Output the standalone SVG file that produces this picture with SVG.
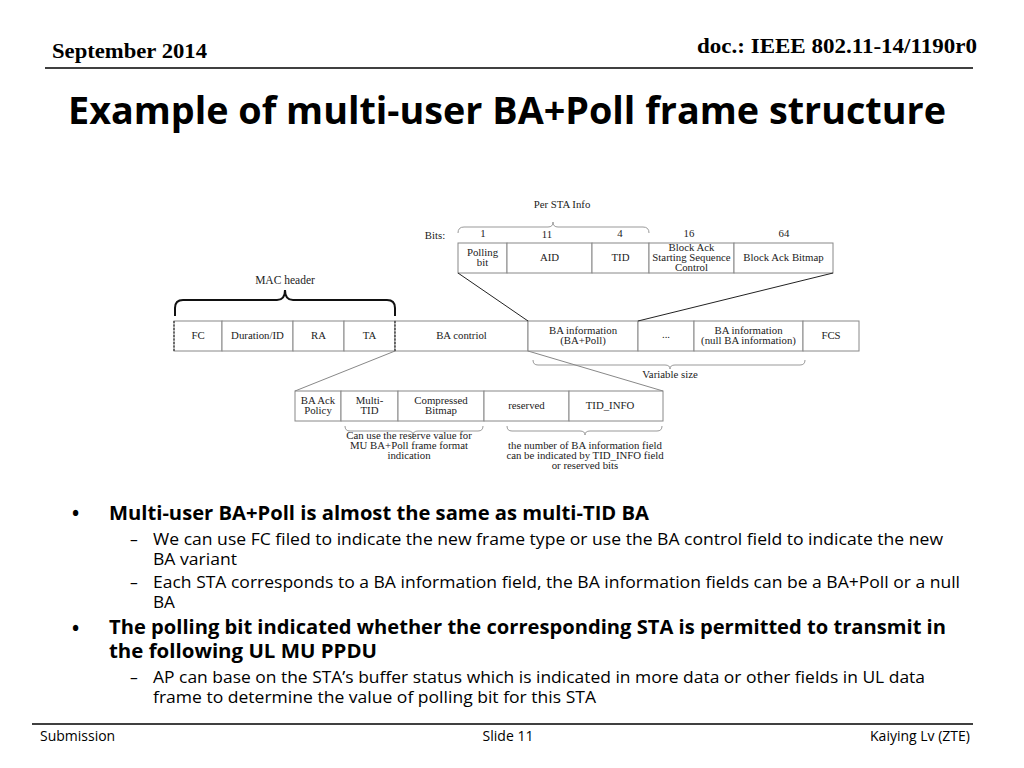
<svg xmlns="http://www.w3.org/2000/svg" width="1024" height="768" viewBox="0 0 1024 768">
<style>
.hd{font-family:"Liberation Serif",serif;font-weight:bold;font-size:21px;fill:#000}
.ti{font-family:"Open Sans","Noto Sans",sans-serif;font-weight:bold;font-size:38px;fill:#000}
.b1{font-family:"Open Sans","Noto Sans",sans-serif;font-weight:bold;font-size:19px;fill:#000}
.b2{font-family:"Open Sans","Noto Sans",sans-serif;font-size:15.5px;fill:#000}
.ft{font-family:"Open Sans","Noto Sans",sans-serif;font-size:14px;fill:#000}
.t{font-family:"Liberation Serif",serif;font-size:10.8px;fill:#222;text-anchor:middle}
.cell{fill:#fff;stroke:#888;stroke-width:1}
.br{fill:none;stroke:#999;stroke-width:1}
.conn{fill:none;stroke:#222;stroke-width:1}
.conn2{fill:none;stroke:#888;stroke-width:1}
</style>
<rect width="1024" height="768" fill="#fff"/>
<text class="hd" x="52" y="58" textLength="155" lengthAdjust="spacingAndGlyphs">September 2014</text>
<text class="hd" x="697" y="53" textLength="280" lengthAdjust="spacingAndGlyphs">doc.: IEEE 802.11-14/1190r0</text>
<line x1="45" y1="68" x2="973" y2="68" stroke="#000" stroke-width="1.5"/>
<text class="ti" x="68" y="124" textLength="878" lengthAdjust="spacingAndGlyphs">Example of multi-user BA+Poll frame structure</text>

<g id="per-sta-info">
<text class="t" x="562" y="208">Per STA Info</text>
<path class="br" d="M458,233 Q458,227 464,227 L548,227 Q553,227 553,222 Q553,227 558,227 L643,227 Q649,227 649,233"/>
<text class="t" x="435" y="239">Bits:</text>
<text class="t" x="483" y="237">1</text>
<text class="t" x="547" y="238">11</text>
<text class="t" x="620" y="237">4</text>
<text class="t" x="689" y="237">16</text>
<text class="t" x="784" y="237">64</text>
<rect class="cell" x="458" y="243" width="49" height="30"/>
<text class="t" x="482.5" y="256">Polling</text><text class="t" x="482.5" y="266">bit</text>
<rect class="cell" x="507" y="243" width="85" height="30"/>
<text class="t" x="549.5" y="261">AID</text>
<rect class="cell" x="592" y="243" width="57" height="30"/>
<text class="t" x="620.5" y="261">TID</text>
<rect class="cell" x="649" y="243" width="85" height="30"/>
<text class="t" x="691.5" y="251">Block Ack</text><text class="t" x="691.5" y="261">Starting Sequence</text><text class="t" x="691.5" y="271">Control</text>
<rect class="cell" x="734" y="243" width="99" height="30"/>
<text class="t" x="783.5" y="261">Block Ack Bitmap</text>
</g>

<g id="mac-header">
<text class="t" x="285" y="284" style="font-size:11.5px">MAC header</text>
<path d="M175,316 L175,308 Q175,300 183,300 L277,300 Q285,300 285,290 Q285,300 293,300 L387,300 Q395,300 395,308 L395,316" fill="none" stroke="#111" stroke-width="2"/>
</g>

<g id="frame">
<rect class="cell" x="174" y="321" width="48" height="30"/>
<text class="t" x="198" y="339">FC</text>
<rect class="cell" x="222" y="321" width="71" height="30"/>
<text class="t" x="257.5" y="339">Duration/ID</text>
<rect class="cell" x="293" y="321" width="51" height="30"/>
<text class="t" x="318.5" y="339">RA</text>
<rect class="cell" x="344" y="321" width="51" height="30"/>
<text class="t" x="369.5" y="339">TA</text>
<rect class="cell" x="395" y="321" width="133" height="30"/>
<text class="t" x="461.5" y="339">BA contriol</text>
<rect class="cell" x="528" y="321" width="110" height="30"/>
<text class="t" x="583" y="334">BA information</text><text class="t" x="583" y="344">(BA+Poll)</text>
<rect class="cell" x="638" y="321" width="56" height="30"/>
<text class="t" x="666" y="338">...</text>
<rect class="cell" x="694" y="321" width="109" height="30"/>
<text class="t" x="748.5" y="334">BA information</text><text class="t" x="748.5" y="344">(null BA information)</text>
<rect class="cell" x="803" y="321" width="56" height="30"/>
<text class="t" x="831" y="339">FCS</text>
<line x1="174" y1="321" x2="174" y2="351" stroke="#333" stroke-width="1.2" stroke-dasharray="2,1.5"/>
<line x1="395" y1="321" x2="395" y2="351" stroke="#333" stroke-width="1.2" stroke-dasharray="2,1.5"/>
<path class="br" d="M533,360 Q533,365 538,365 L665,365 Q670,365 670,369 Q670,365 675,365 L800,365 Q805,365 805,360"/>
<text class="t" x="670" y="378">Variable size</text>
</g>

<g id="ba-control">
<rect class="cell" x="295" y="391" width="46" height="30"/>
<text class="t" x="318" y="404">BA Ack</text><text class="t" x="318" y="414">Policy</text>
<rect class="cell" x="341" y="391" width="57" height="30"/>
<text class="t" x="369.5" y="404">Multi-</text><text class="t" x="369.5" y="414">TID</text>
<rect class="cell" x="398" y="391" width="86" height="30"/>
<text class="t" x="441" y="404">Compressed</text><text class="t" x="441" y="414">Bitmap</text>
<rect class="cell" x="484" y="391" width="85" height="30"/>
<text class="t" x="526.5" y="409">reserved</text>
<rect class="cell" x="569" y="391" width="94" height="30"/>
<text class="t" x="610" y="409">TID_INFO</text>
<path class="br" d="M345,426 Q345,431 350,431 L408,431 Q413,431 413,435 Q413,431 418,431 L478,431 Q483,431 483,426"/>
<text class="t" x="409" y="439">Can use the reserve value for</text>
<text class="t" x="409" y="449">MU BA+Poll frame format</text>
<text class="t" x="409" y="459">indication</text>
<path class="br" d="M507,426 Q507,431 512,431 L580,431 Q585,431 585,435 Q585,431 590,431 L657,431 Q662,431 662,426"/>
<text class="t" x="585" y="449">the number of BA  information field</text>
<text class="t" x="585" y="459">can be indicated by TID_INFO field</text>
<text class="t" x="585" y="469">or reserved bits</text>
</g>

<g id="connectors">
<line class="conn" x1="458" y1="273" x2="528" y2="321"/>
<line class="conn" x1="833" y1="273" x2="638" y2="321"/>
<line class="conn2" x1="395" y1="351" x2="295" y2="391"/>
<line class="conn2" x1="528" y1="351" x2="663" y2="391"/>
</g>

<g id="bullets">
<text class="b1" x="72" y="520">•</text>
<text class="b1" x="109" y="520" textLength="540" lengthAdjust="spacingAndGlyphs">Multi-user BA+Poll is almost the same as multi-TID BA</text>
<text class="b2" x="130" y="545">–</text>
<text class="b2" x="153" y="545" textLength="790" lengthAdjust="spacingAndGlyphs">We can use FC filed to indicate the new frame type or use the BA control field to indicate the new</text>
<text class="b2" x="153" y="565" textLength="84" lengthAdjust="spacingAndGlyphs">BA variant</text>
<text class="b2" x="130" y="588">–</text>
<text class="b2" x="153" y="588" textLength="807" lengthAdjust="spacingAndGlyphs">Each STA corresponds to a BA information field, the BA information fields can be a BA+Poll  or a null</text>
<text class="b2" x="153" y="608" textLength="22" lengthAdjust="spacingAndGlyphs">BA</text>
<text class="b1" x="72" y="635">•</text>
<text class="b1" x="109" y="634" textLength="837" lengthAdjust="spacingAndGlyphs">The polling bit indicated whether the corresponding STA is permitted to transmit  in</text>
<text class="b1" x="109" y="658" textLength="268" lengthAdjust="spacingAndGlyphs">the following UL MU PPDU</text>
<text class="b2" x="130" y="683">–</text>
<text class="b2" x="153" y="683" textLength="772" lengthAdjust="spacingAndGlyphs">AP can base on the STA’s buffer status which is indicated in more data or other fields in UL data</text>
<text class="b2" x="153" y="703" textLength="443" lengthAdjust="spacingAndGlyphs">frame to determine the value of polling bit for this STA</text>
</g>

<line x1="32" y1="724" x2="973" y2="724" stroke="#000" stroke-width="1.5"/>
<text class="ft" x="40" y="741">Submission</text>
<text class="ft" x="508" y="741" text-anchor="middle">Slide 11</text>
<text class="ft" x="970" y="741" text-anchor="end">Kaiying Lv (ZTE)</text>
</svg>
